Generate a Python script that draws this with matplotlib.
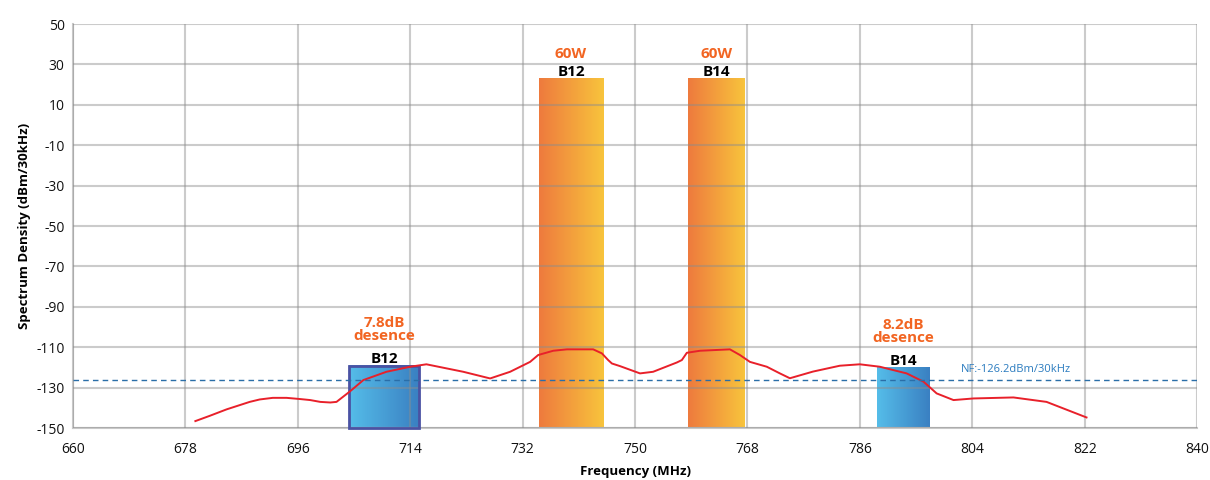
import numpy as np
import matplotlib.pyplot as plt
from matplotlib.colors import LinearSegmentedColormap

plt.rcParams['font.family'] = ['Open Sans', 'DejaVu Sans']
plt.rcParams['axes.unicode_minus'] = False

# transmit carriers (orange) and victim receive bands (blue)
tx_names = ['B12', 'B14']
tx_start = [734.6, 758.5]
tx_end = [744.9, 767.6]
tx_level = [23, 23]
tx_power = ['60W', '60W']

rx_names = ['B12', 'B14']
rx_start = [704.2, 788.8]
rx_end = [715.4, 797.2]
rx_level = [-119, -120]
rx_desense = ['7.8dB\ndesence', '8.2dB\ndesence']

nf_level = -126.2
nf_label = 'NF:-126.2dBm/30kHz'

# red spectrum trace
freq = [679.6, 681.9, 684.6, 688.3, 689.9, 692.0, 694.2, 696.4, 698.0, 699.6,
        701.2, 702.2, 704.4, 706.5, 710.2,
        714.0, 716.6, 722.5, 726.8, 730.0, 733.2, 734.5, 736.9, 739.1, 743.3,
        744.7, 745.7, 746.3, 747.6, 750.8, 752.9, 756.7, 757.5, 758.3, 760.4,
        765.2, 766.8, 768.4, 771.1, 773.2, 774.8, 778.5, 782.8, 786.0, 789.2,
        793.5, 796.2, 798.3, 801.0, 804.2, 810.6, 815.9, 822.3]
level = [-146.5, -143.9, -140.7, -137.0, -135.8, -135.0, -135.0, -135.6, -136.1, -137.0,
         -137.3, -137.0, -131.7, -126.2, -122.1,
         -119.6, -118.4, -122.1, -125.4, -122.1, -117.2, -113.8, -111.7, -111.0, -111.0,
         -113.0, -116.3, -118.0, -119.3, -122.9, -122.1, -117.5, -116.3, -112.7, -111.7,
         -111.0, -113.8, -117.2, -119.6, -122.9, -125.3, -122.0, -119.1, -118.4, -119.6,
         -122.9, -127.0, -132.8, -136.1, -135.3, -134.8, -137.0, -144.7]

xticks = list(range(660, 841, 18))
yticks = list(range(-150, 51, 20))
ymin = -150

orange = LinearSegmentedColormap.from_list('orange', ['#ee7a3e', '#f8c43c'])
blue = LinearSegmentedColormap.from_list('blue', ['#55bde9', '#3a80c2'])
grad = np.linspace(0, 1, 256).reshape(1, -1)

fig = plt.figure(figsize=(12.1, 4.8), dpi=100)
ax = fig.add_axes([0.0603, 0.108, 0.929, 0.842])

for name, x0, x1, top, pw in zip(tx_names, tx_start, tx_end, tx_level, tx_power):
    ax.imshow(grad, cmap=orange, extent=[x0, x1, ymin, top], aspect='auto', zorder=2)
    xc = (x0 + x1) / 2
    ax.annotate(name, (xc, top), xytext=(0, 0), textcoords='offset points',
                ha='center', va='bottom', fontsize=11, fontweight='bold', color='black')
    ax.annotate(pw, (xc, top), xytext=(0, 12.5), textcoords='offset points',
                ha='center', va='bottom', fontsize=11, fontweight='bold', color='#f26522')

for i, (name, x0, x1, top, ds) in enumerate(zip(rx_names, rx_start, rx_end, rx_level, rx_desense)):
    ax.imshow(grad, cmap=blue, extent=[x0, x1, ymin, top], aspect='auto', zorder=2)
    if i == 0:
        ax.add_patch(plt.Rectangle((x0, ymin), x1 - x0, top - ymin, fill=False,
                                   edgecolor='#4a52a3', lw=2, zorder=5, clip_on=False))
    xc = (x0 + x1) / 2
    ax.annotate(name, (xc, top), xytext=(0, 0), textcoords='offset points',
                ha='center', va='bottom', fontsize=11, fontweight='bold', color='black')
    ax.annotate(ds, (xc, top), xytext=(0, 16.5), textcoords='offset points',
                ha='center', va='bottom', fontsize=11, fontweight='bold', color='#f26522',
                linespacing=0.9)

ax.plot(freq, level, color='#e8202a', lw=1.4, zorder=6)
ax.axhline(nf_level, color='#2a6ea8', lw=1, ls=(0, (4, 3)), zorder=6)
ax.text(802.2, nf_level + 2.5, nf_label, fontsize=8, color='#2a7bbf', va='bottom', ha='left')

ax.set_xlim(660, 840)
ax.set_ylim(-150, 50)
ax.set_xticks(xticks)
ax.set_yticks(yticks)
ax.grid(True, color='#8c8c8c', alpha=0.45, lw=1.5, zorder=4)
ax.set_axisbelow(False)
for s in ['top', 'right']:
    ax.spines[s].set_visible(False)
for s in ['left', 'bottom']:
    ax.spines[s].set_color('#c8c8c8')
    ax.spines[s].set_linewidth(1.5)
ax.tick_params(length=0, labelsize=10, pad=6, labelcolor='#111111')
ax.tick_params(axis='x', pad=10)
ax.set_xlabel('Frequency (MHz)', fontsize=9.5, fontweight='bold', labelpad=6)
ax.set_ylabel('Spectrum Density (dBm/30kHz)', fontsize=9.5, fontweight='bold', labelpad=4)

fig.savefig('out.png', dpi=100)
